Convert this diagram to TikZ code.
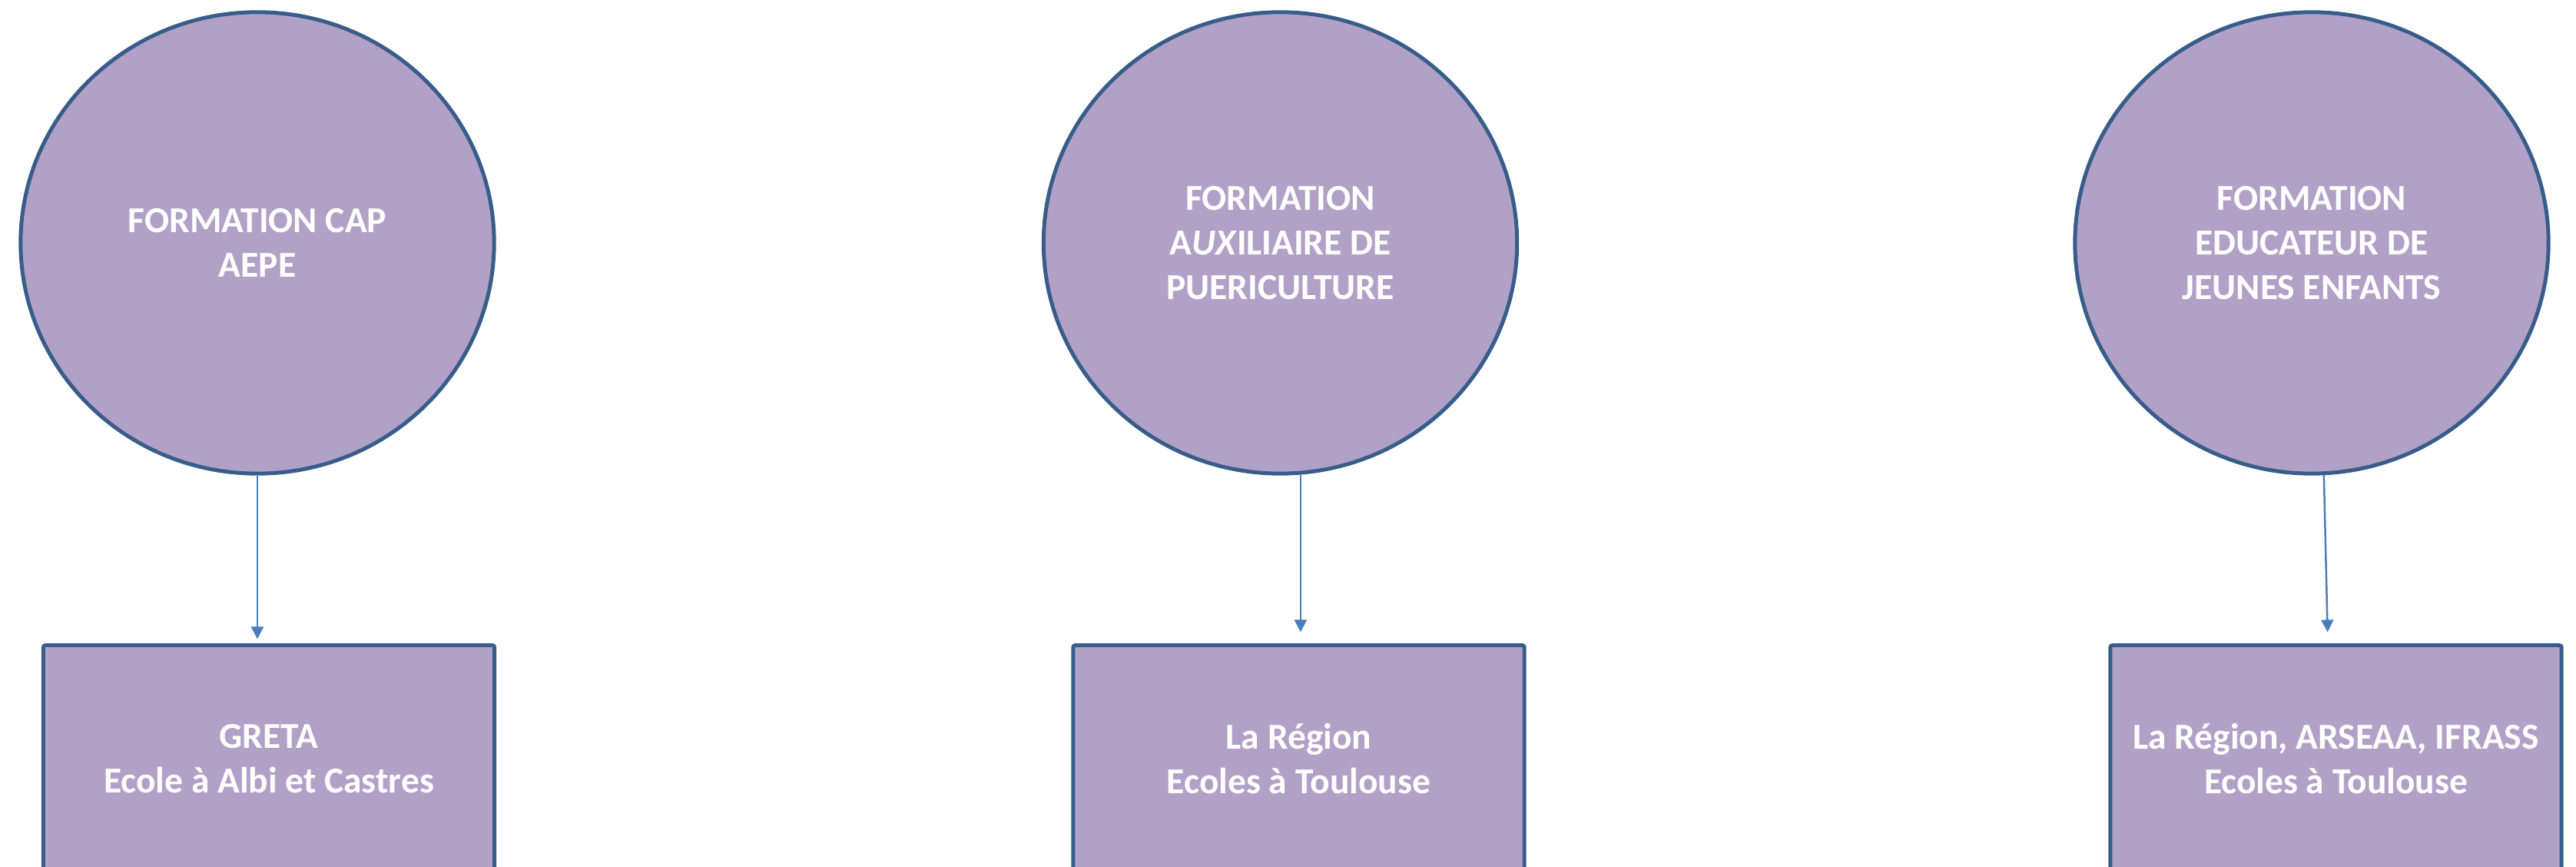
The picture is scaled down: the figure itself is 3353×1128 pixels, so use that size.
\documentclass[tikz,border=0pt]{standalone}
\usepackage{fontspec}
\setmainfont{Carlito}
\usetikzlibrary{shapes.geometric,arrows.meta}
\definecolor{mauve}{HTML}{B2A1C7}
\definecolor{bordure}{HTML}{385D8A}
\definecolor{fleche}{HTML}{4A7EBB}
\begin{document}
\begin{tikzpicture}[x=0.01cm,y=-0.01cm]
  \tikzstyle{formation}=[ellipse,draw=bordure,fill=mauve,line width=0.05cm,
    minimum width=6.16cm,minimum height=6cm,inner sep=0pt,text=white,
    font=\bfseries\fontsize{13.5}{16.5}\selectfont,align=center]
  \tikzstyle{ecole}=[rectangle,rounded corners=0.03cm,draw=bordure,fill=mauve,
    line width=0.05cm,minimum width=5.87cm,minimum height=2.95cm,inner sep=0pt,
    text=white,font=\bfseries\fontsize{13.5}{16.5}\selectfont,align=center]
  \tikzstyle{lien}=[draw=fleche,line width=0.025cm,
    -{Triangle[width=0.16cm,length=0.16cm]}]
  \useasboundingbox (0,0) rectangle (3353,1128);
  \clip (0,0) rectangle (3353,1128);
  % formations
  \node[formation] (cap) at (335,316) {FORMATION CAP\\AEPE};
  \node[formation] (auxpuer) at (1666.5,316)
    {FORMATION\\A\textit{UX}ILIAIRE DE\\PUERICULTURE};
  \node[formation] (eje) at (3009,316)
    {FORMATION\\EDUCATEUR DE\\JEUNES ENFANTS};
  % ecoles
  \node[ecole] (greta) at (350,987) {GRETA\\Ecole à Albi et Castres};
  \node[ecole] (region) at (1690.5,987) {La Région\\Ecoles à Toulouse};
  \node[ecole] (arseaa) at (3040.5,987)
    {La Région, ARSEAA, IFRASS\\Ecoles à Toulouse};
  % liens
  \draw[lien,shorten >=0.055cm] (cap.south) -- (cap.south |- greta.north);
  \draw[lien,shorten >=0.145cm] (auxpuer.-85.6) -- (auxpuer.-85.6 |- region.north);
  \draw[lien,shorten >=0.145cm] (eje.-87) -- ([xshift=-0.105cm]arseaa.north);
\end{tikzpicture}
\end{document}
